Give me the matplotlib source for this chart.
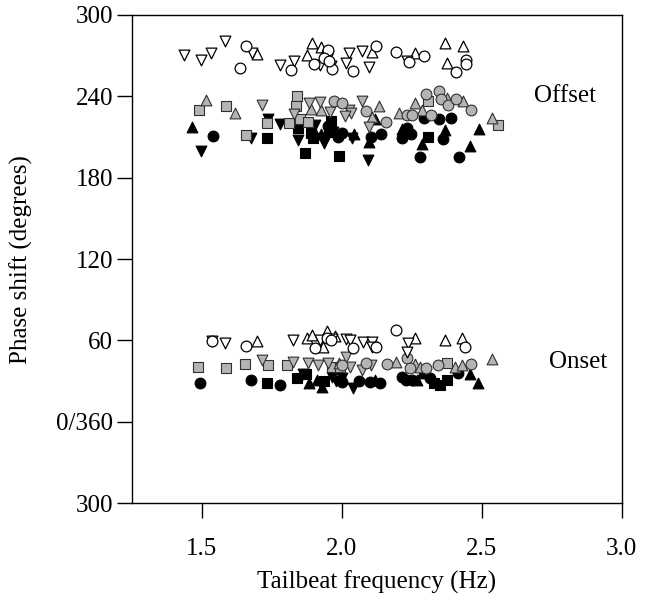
import matplotlib
matplotlib.use('Agg')
import matplotlib.pyplot as plt
import matplotlib as mpl

mpl.rcParams.update({'font.size': 18, 'font.family': ['Liberation Serif', 'DejaVu Serif']})

# tailbeat frequency (Hz) and phase shift (deg), offset + onset points per symbol group
open_circle_hz = [1.657, 1.637, 1.818, 1.900, 1.945, 1.950, 1.963, 2.040, 2.121, 2.195, 2.295, 2.238,
                  2.407, 2.443, 2.443, 1.935, 1.955,
                  1.535, 1.656, 1.904, 1.945, 2.040, 2.121, 2.195, 2.439, 1.960]
open_circle_deg = [277.4, 260.7, 259.6, 263.9, 271.7, 274.0, 260.0, 258.9, 277.1, 272.5, 269.8, 265.3,
                   257.7, 266.8, 263.6, 268.0, 266.0,
                   59.5, 56.0, 54.1, 62.0, 54.6, 55.3, 67.6, 55.3, 60.0]

open_up_hz = [1.695, 1.892, 1.874, 1.927, 2.106, 2.261, 2.369, 2.431, 2.374, 1.945,
              1.695, 1.874, 1.892, 1.945, 1.933, 2.261, 2.368, 2.428, 1.975]
open_up_deg = [271.2, 279.1, 270.5, 276.2, 272.9, 272.2, 279.1, 277.4, 264.4, 268.5,
               59.5, 61.5, 63.9, 66.9, 55.3, 61.5, 60.2, 61.5, 63.0]

open_down_hz = [1.436, 1.495, 1.533, 1.583, 1.680, 1.780, 1.830, 1.921, 1.950, 2.025, 2.014, 2.072,
                2.097, 2.233, 1.960,
                1.535, 1.582, 1.826, 1.920, 1.965, 2.014, 2.030, 2.074, 2.106, 2.106, 2.237, 2.231]
open_down_deg = [270.5, 266.8, 271.7, 280.8, 271.7, 263.3, 266.0, 263.1, 270.0, 272.2, 264.4, 273.4,
                 261.9, 266.3, 262.5,
                 59.5, 57.8, 60.2, 60.5, 61.0, 61.0, 60.2, 58.6, 58.6, 55.5, 57.8, 51.6]

grey_square_hz = [1.488, 1.585, 1.657, 1.733, 1.811, 1.839, 1.835, 1.850, 1.880, 2.306, 2.557,
                  1.487, 1.585, 1.654, 1.737, 1.805, 1.965, 2.374, 1.995]
grey_square_deg = [229.9, 232.9, 211.7, 220.6, 220.1, 240.2, 232.9, 223.5, 221.4, 236.6, 218.9,
                   40.5, 39.8, 42.3, 41.8, 41.8, 40.5, 43.0, 40.5]

grey_up_hz = [1.514, 1.619, 1.888, 1.927, 2.131, 2.107, 2.204, 2.261, 2.288, 2.375, 2.431, 2.537,
              2.195, 2.261, 2.280, 2.405, 2.430, 2.538, 1.990]
grey_up_deg = [237.3, 227.5, 230.9, 229.9, 232.9, 224.5, 227.5, 235.3, 229.9, 238.5, 236.6, 223.8,
               44.2, 42.3, 40.5, 40.5, 41.8, 46.0, 43.0]

grey_down_hz = [1.715, 1.830, 1.882, 1.923, 1.957, 2.025, 2.031, 2.011, 2.072, 2.096,
                1.713, 1.826, 1.880, 1.916, 1.951, 2.014, 2.029, 2.071, 2.105]
grey_down_deg = [233.4, 227.0, 234.9, 236.0, 228.4, 229.9, 227.9, 225.5, 236.6, 217.6,
                 45.5, 44.2, 43.0, 41.8, 43.0, 47.9, 40.5, 38.1, 42.0]

grey_circle_hz = [1.973, 1.999, 2.086, 2.157, 2.231, 2.249, 2.302, 2.320, 2.347, 2.354, 2.379, 2.407, 2.462,
                  2.086, 2.160, 2.231, 2.243, 2.302, 2.344, 2.463, 2.000]
grey_circle_deg = [236.6, 234.9, 229.4, 221.1, 226.0, 226.2, 241.5, 226.0, 244.2, 238.0, 233.4, 237.8, 229.9,
                   43.0, 42.3, 46.7, 39.4, 39.4, 41.8, 42.3, 42.0]

black_square_hz = [1.733, 1.842, 1.868, 1.898, 1.955, 1.960, 1.990, 2.309, 1.890,
                   1.731, 1.838, 1.870, 1.935, 2.350, 2.374, 2.330]
black_square_deg = [209.5, 216.4, 198.0, 209.0, 214.0, 221.5, 196.0, 209.8, 213.0,
                    28.3, 32.0, 35.0, 30.0, 27.0, 30.7, 28.5]

black_up_hz = [1.465, 1.894, 1.925, 2.096, 2.119, 2.214, 2.287, 2.368, 2.489, 2.458, 2.045,
               1.882, 1.910, 1.930, 2.285, 2.457, 2.487, 2.120, 2.270]
black_up_deg = [217.2, 217.7, 212.0, 206.1, 223.0, 215.9, 204.6, 215.2, 215.9, 203.6, 212.0,
                28.3, 30.7, 26.0, 35.7, 34.9, 28.3, 31.0, 31.0]

black_down_hz = [1.496, 1.675, 1.737, 1.779, 1.844, 1.937, 2.035, 2.094, 1.905, 1.970,
                 1.860, 2.040, 1.980, 1.965, 2.000]
black_down_deg = [199.9, 209.5, 223.0, 219.4, 207.8, 205.3, 209.0, 193.0, 219.0, 214.0,
                  35.0, 24.6, 30.0, 33.0, 32.0]

black_circle_hz = [1.540, 1.987, 2.104, 2.139, 2.231, 2.215, 2.246, 2.294, 2.346, 2.389, 2.363, 2.279, 2.418,
                   1.950, 2.000,
                   1.493, 1.675, 1.779, 2.100, 2.136, 2.213, 2.249, 2.314, 2.415, 2.000, 2.230, 2.060]
black_circle_deg = [210.7, 210.2, 209.8, 212.2, 216.9, 209.0, 212.2, 223.8, 223.0, 223.8, 208.4, 195.0, 195.0,
                    218.0, 213.0,
                    28.3, 30.7, 27.0, 29.5, 28.3, 33.2, 30.7, 32.4, 35.7, 29.0, 31.0, 30.0]

ytick_pos = [-60, 0, 60, 120, 180, 240, 300]
ytick_labels = ['300', '0/360', '60', '120', '180', '240', '300']
xtick_pos = [1.5, 2.0, 2.5, 3.0]

fig = plt.figure(figsize=(6.47, 5.99), dpi=100)
ax = fig.add_axes([0.204, 0.160, 0.757, 0.815])

grey = '#b4b4b4'
ms = 60

# black first, then grey, open symbols on top
ax.scatter(black_square_hz, black_square_deg, s=ms * 0.85, marker='s', c='black', edgecolors='black', linewidths=0.8, zorder=3)
ax.scatter(black_up_hz, black_up_deg, s=ms, marker='^', c='black', edgecolors='black', linewidths=0.8, zorder=3)
ax.scatter(black_down_hz, black_down_deg, s=ms, marker='v', c='black', edgecolors='black', linewidths=0.8, zorder=3)
ax.scatter(black_circle_hz, black_circle_deg, s=ms, marker='o', c='black', edgecolors='black', linewidths=0.8, zorder=3)

ax.scatter(grey_square_hz, grey_square_deg, s=ms * 0.85, marker='s', c=grey, edgecolors='#303030', linewidths=0.8, zorder=4)
ax.scatter(grey_up_hz, grey_up_deg, s=ms, marker='^', c=grey, edgecolors='#303030', linewidths=0.8, zorder=4)
ax.scatter(grey_down_hz, grey_down_deg, s=ms, marker='v', c=grey, edgecolors='#303030', linewidths=0.8, zorder=4)
ax.scatter(grey_circle_hz, grey_circle_deg, s=ms, marker='o', c=grey, edgecolors='#303030', linewidths=0.8, zorder=4)

ax.scatter(open_up_hz, open_up_deg, s=ms, marker='^', c='white', edgecolors='black', linewidths=0.9, zorder=5)
ax.scatter(open_down_hz, open_down_deg, s=ms, marker='v', c='white', edgecolors='black', linewidths=0.9, zorder=5)
ax.scatter(open_circle_hz, open_circle_deg, s=ms, marker='o', c='white', edgecolors='black', linewidths=0.9, zorder=5)

ax.text(2.797, 240, 'Offset', ha='center', va='center')
ax.text(2.843, 44, 'Onset', ha='center', va='center')

ax.set_xlim(1.25, 3.0)
ax.set_ylim(-60, 300)
ax.set_xticks(xtick_pos)
ax.set_xticklabels(['1.5', '2.0', '2.5', '3.0'])
ax.set_yticks(ytick_pos)
ax.set_yticklabels(ytick_labels)

ax.tick_params(axis='x', direction='out', length=11, width=1, pad=14)
ax.tick_params(axis='y', direction='out', length=10.5, width=1, pad=3)

for sp in ax.spines.values():
    sp.set_linewidth(1)

ax.set_xlabel('Tailbeat frequency (Hz)', labelpad=8)
ax.set_ylabel('Phase shift (degrees)', labelpad=17)

plt.savefig('out.png', dpi=100)
